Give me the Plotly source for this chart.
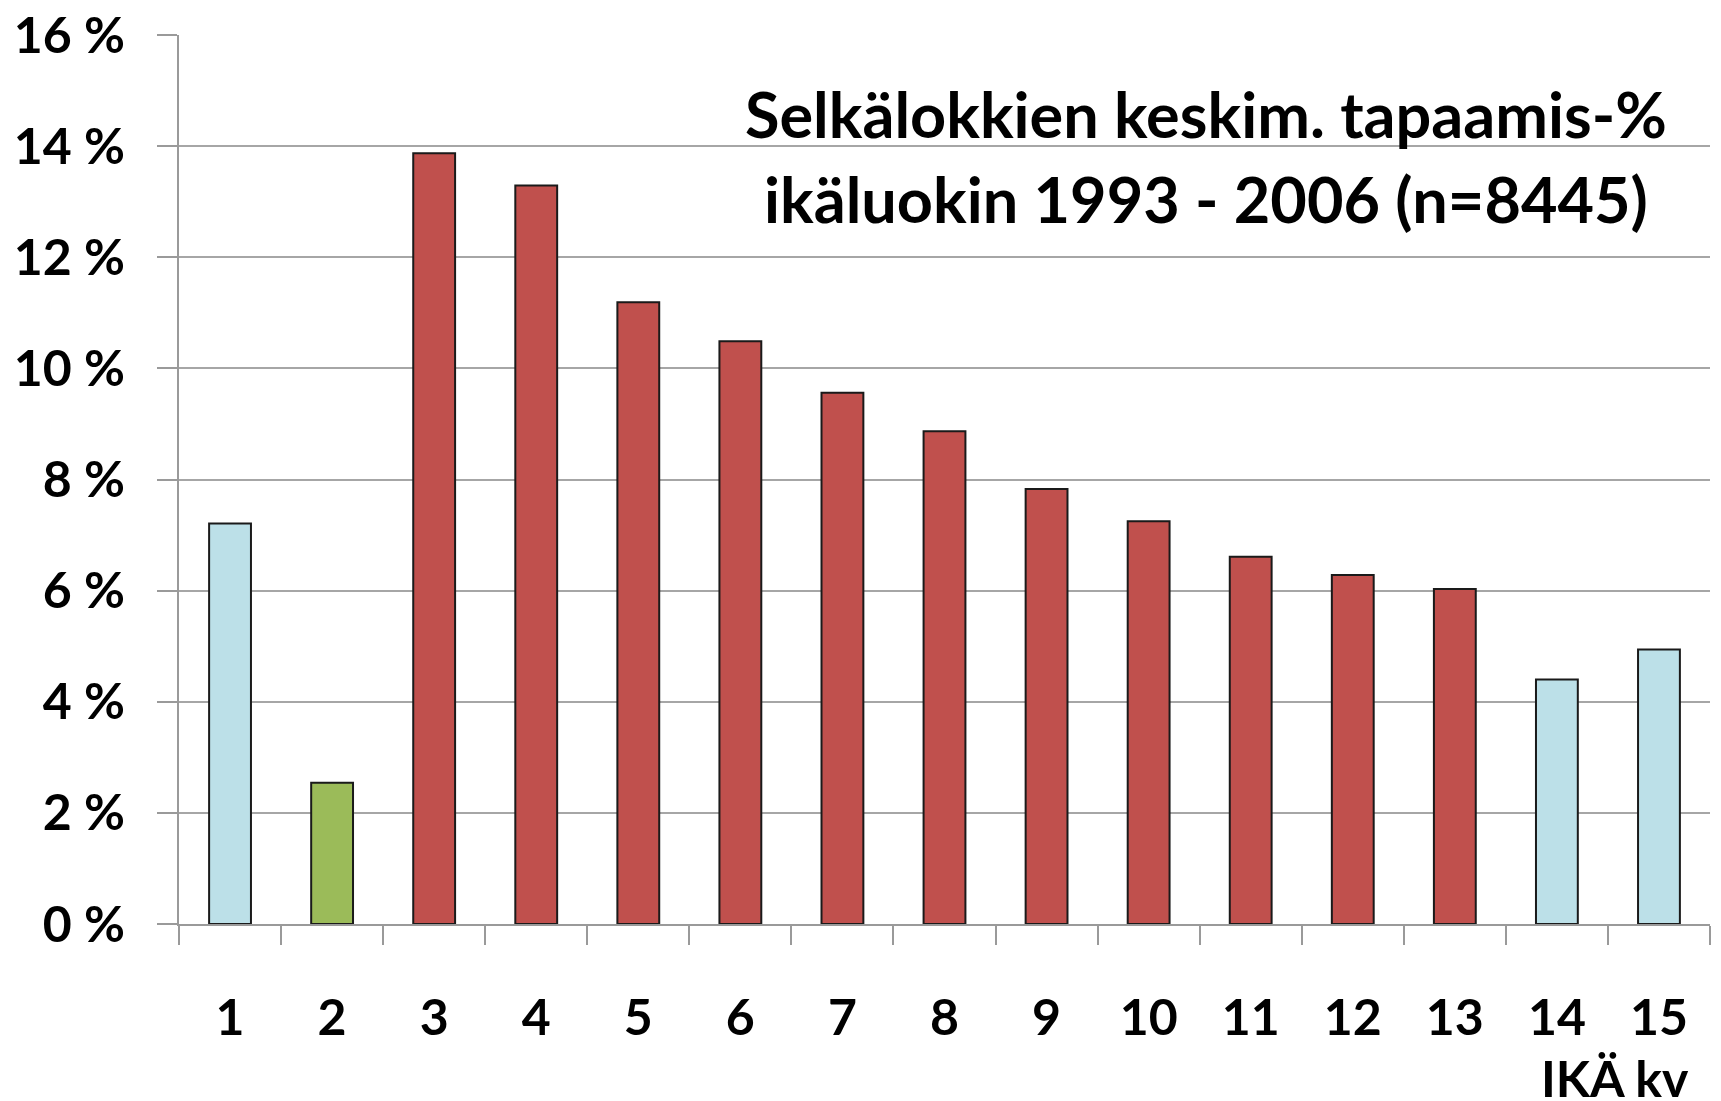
import plotly.graph_objects as go

# Data
ages = [str(i) for i in range(1, 16)]
values = [7.21, 2.54, 13.87, 13.29, 11.19, 10.49, 9.56, 8.87, 7.83, 7.25, 6.61, 6.28, 6.03, 4.40, 4.94]
bar_colors = ["#BCE0E8", "#9BBB59"] + ["#C0504D"] * 11 + ["#BCE0E8", "#BCE0E8"]
y_ticks = [0, 2, 4, 6, 8, 10, 12, 14, 16]
title_line1 = "Selkälokkien keskim. tapaamis-%"
title_line2 = "ikäluokin 1993 - 2006 (n=8445)"
x_title = "IKÄ kv"

FONT = "Lato"
OFF = 8  # default page body margin
W, H = 1721 - OFF, 1101 - OFF
# plot area in window pixels: x 179..1710, y 35..924
L, T = 179 - OFF, 35 - OFF
R = W - (1710 - OFF)
B = H - (924 - OFF)
plot_h = H - T - B
plot_w = W - L - R

def py(y_win):
    return (H - B - (y_win - OFF)) / plot_h

def px(x_win):
    return ((x_win - OFF) - L) / plot_w

fig = go.Figure(
    go.Bar(
        x=ages,
        y=values,
        width=0.41,
        marker=dict(color=bar_colors, line=dict(color="#1a1a1a", width=2)),
        hoverinfo="x+y",
    )
)

tickfont = dict(family=FONT, size=50, color="black", weight="bold")

fig.update_layout(
    width=W,
    height=H,
    margin=dict(l=L, r=R, t=T, b=B, pad=0, autoexpand=False),
    paper_bgcolor="white",
    plot_bgcolor="white",
    showlegend=False,
    xaxis=dict(
        type="category",
        range=[-0.5, 14.5],
        automargin=False,
        tickson="boundaries",
        ticks="outside",
        ticklen=19,
        tickwidth=2,
        tickcolor="#9a9a9a",
        showline=True,
        linecolor="#9a9a9a",
        linewidth=2,
        showgrid=False,
        tickfont=tickfont,
        ticklabelstandoff=49,
        ticklabeloverflow="allow",
    ),
    yaxis=dict(
        range=[0, 16],
        automargin=False,
        tickvals=y_ticks,
        ticktext=[f"{v} %" for v in y_ticks],
        ticks="outside",
        ticklen=20,
        tickwidth=2,
        tickcolor="#9a9a9a",
        showline=True,
        linecolor="#9a9a9a",
        linewidth=2,
        showgrid=True,
        gridcolor="#a6a6a6",
        gridwidth=2,
        zeroline=False,
        tickfont=tickfont,
        ticklabelstandoff=22,
        ticklabeloverflow="allow",
    ),
    annotations=[
        dict(text=title_line1, xref="paper", yref="paper", x=px(1206), y=py(113),
             xanchor="center", yanchor="middle", showarrow=False,
             font=dict(family=FONT, size=63, color="black", weight="bold")),
        dict(text=title_line2, xref="paper", yref="paper", x=px(1206), y=py(198),
             xanchor="center", yanchor="middle", showarrow=False,
             font=dict(family=FONT, size=63, color="black", weight="bold")),
        dict(text=x_title, xref="paper", yref="paper", x=px(1615), y=py(1046),
             xanchor="center", yanchor="top", showarrow=False,
             font=dict(family=FONT, size=50, color="black", weight="bold")),
    ],
)

fig.write_html("out.html")
